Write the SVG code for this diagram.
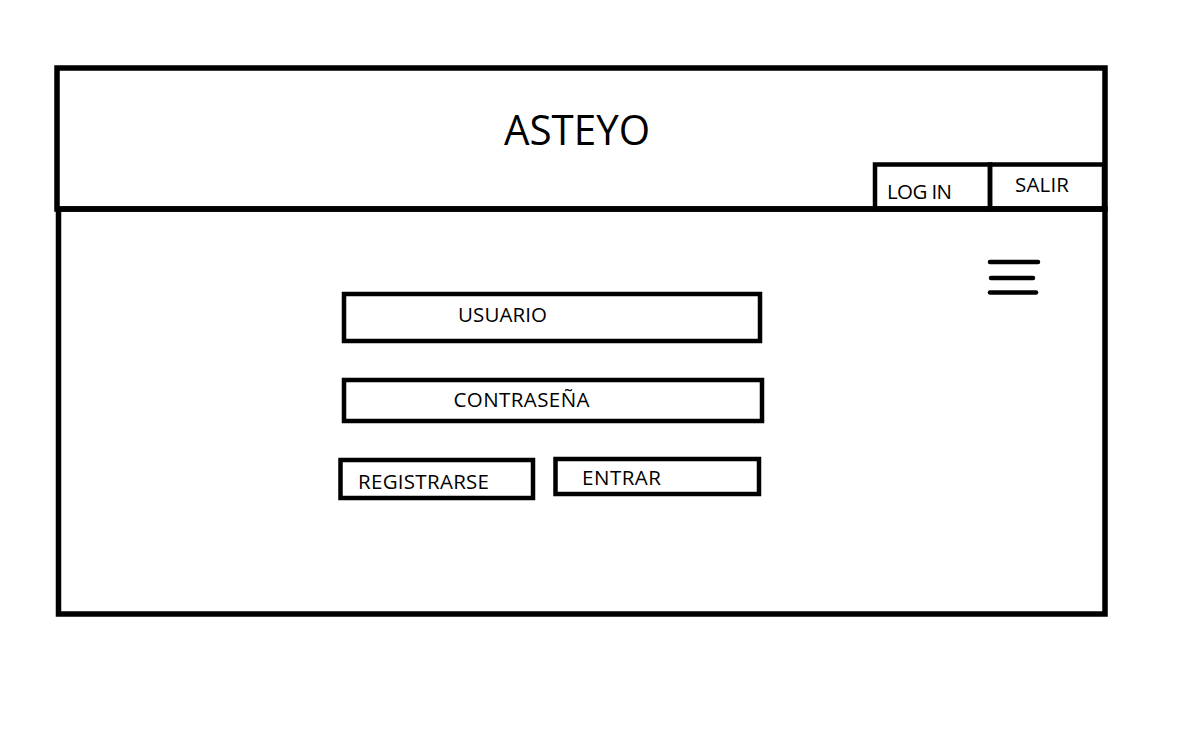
<svg xmlns="http://www.w3.org/2000/svg" width="1186" height="753" viewBox="0 0 1186 753">
<style>
.box{fill:none;stroke:#000;stroke-width:5.5}
.btn{fill:none;stroke:#000;stroke-width:4.5}
.t{font-family:"Open Sans","Liberation Sans",sans-serif;font-size:20.5px;fill:#000}
.title{font-family:"Open Sans","Liberation Sans",sans-serif;font-size:42px;fill:#000}
.ham{stroke:#000;stroke-width:4.5;stroke-linecap:round}
</style>
<rect width="1186" height="753" fill="#fff"/>
<g id="header">
<rect class="box" x="57" y="68" width="1048" height="141"/>
<text class="title" x="504" y="145" textLength="146" lengthAdjust="spacingAndGlyphs">ASTEYO</text>
</g>
<g id="body">
<rect class="box" x="58.5" y="209" width="1046.5" height="405"/>
</g>
<g id="login-btn">
<rect class="btn" x="875" y="164.5" width="115" height="44.5"/>
<text class="t" x="887" y="199" textLength="65">LOG IN</text>
</g>
<g id="salir-btn">
<rect class="btn" x="990" y="164.5" width="114" height="44.5"/>
<text class="t" x="1015" y="191.5" textLength="54">SALIR</text>
</g>
<g id="menu">
<line class="ham" x1="990" y1="262" x2="1038" y2="262"/>
<line class="ham" x1="991" y1="278" x2="1033" y2="278"/>
<line class="ham" x1="990" y1="292.5" x2="1036" y2="292.5"/>
</g>
<g id="usuario">
<rect class="btn" x="344" y="294" width="416" height="47"/>
<text class="t" x="458" y="321.5" textLength="89">USUARIO</text>
</g>
<g id="contrasena">
<rect class="btn" x="344" y="380" width="418" height="41"/>
<text class="t" x="453.5" y="406.5" textLength="136">CONTRASEÑA</text>
</g>
<g id="registrarse">
<rect class="btn" x="340.5" y="460" width="192.5" height="38"/>
<text class="t" x="358" y="488.5" textLength="131">REGISTRARSE</text>
</g>
<g id="entrar">
<rect class="btn" x="555.5" y="459" width="203.5" height="35"/>
<text class="t" x="582" y="484.5" textLength="79">ENTRAR</text>
</g>
<g id="connectors"></g>
</svg>
